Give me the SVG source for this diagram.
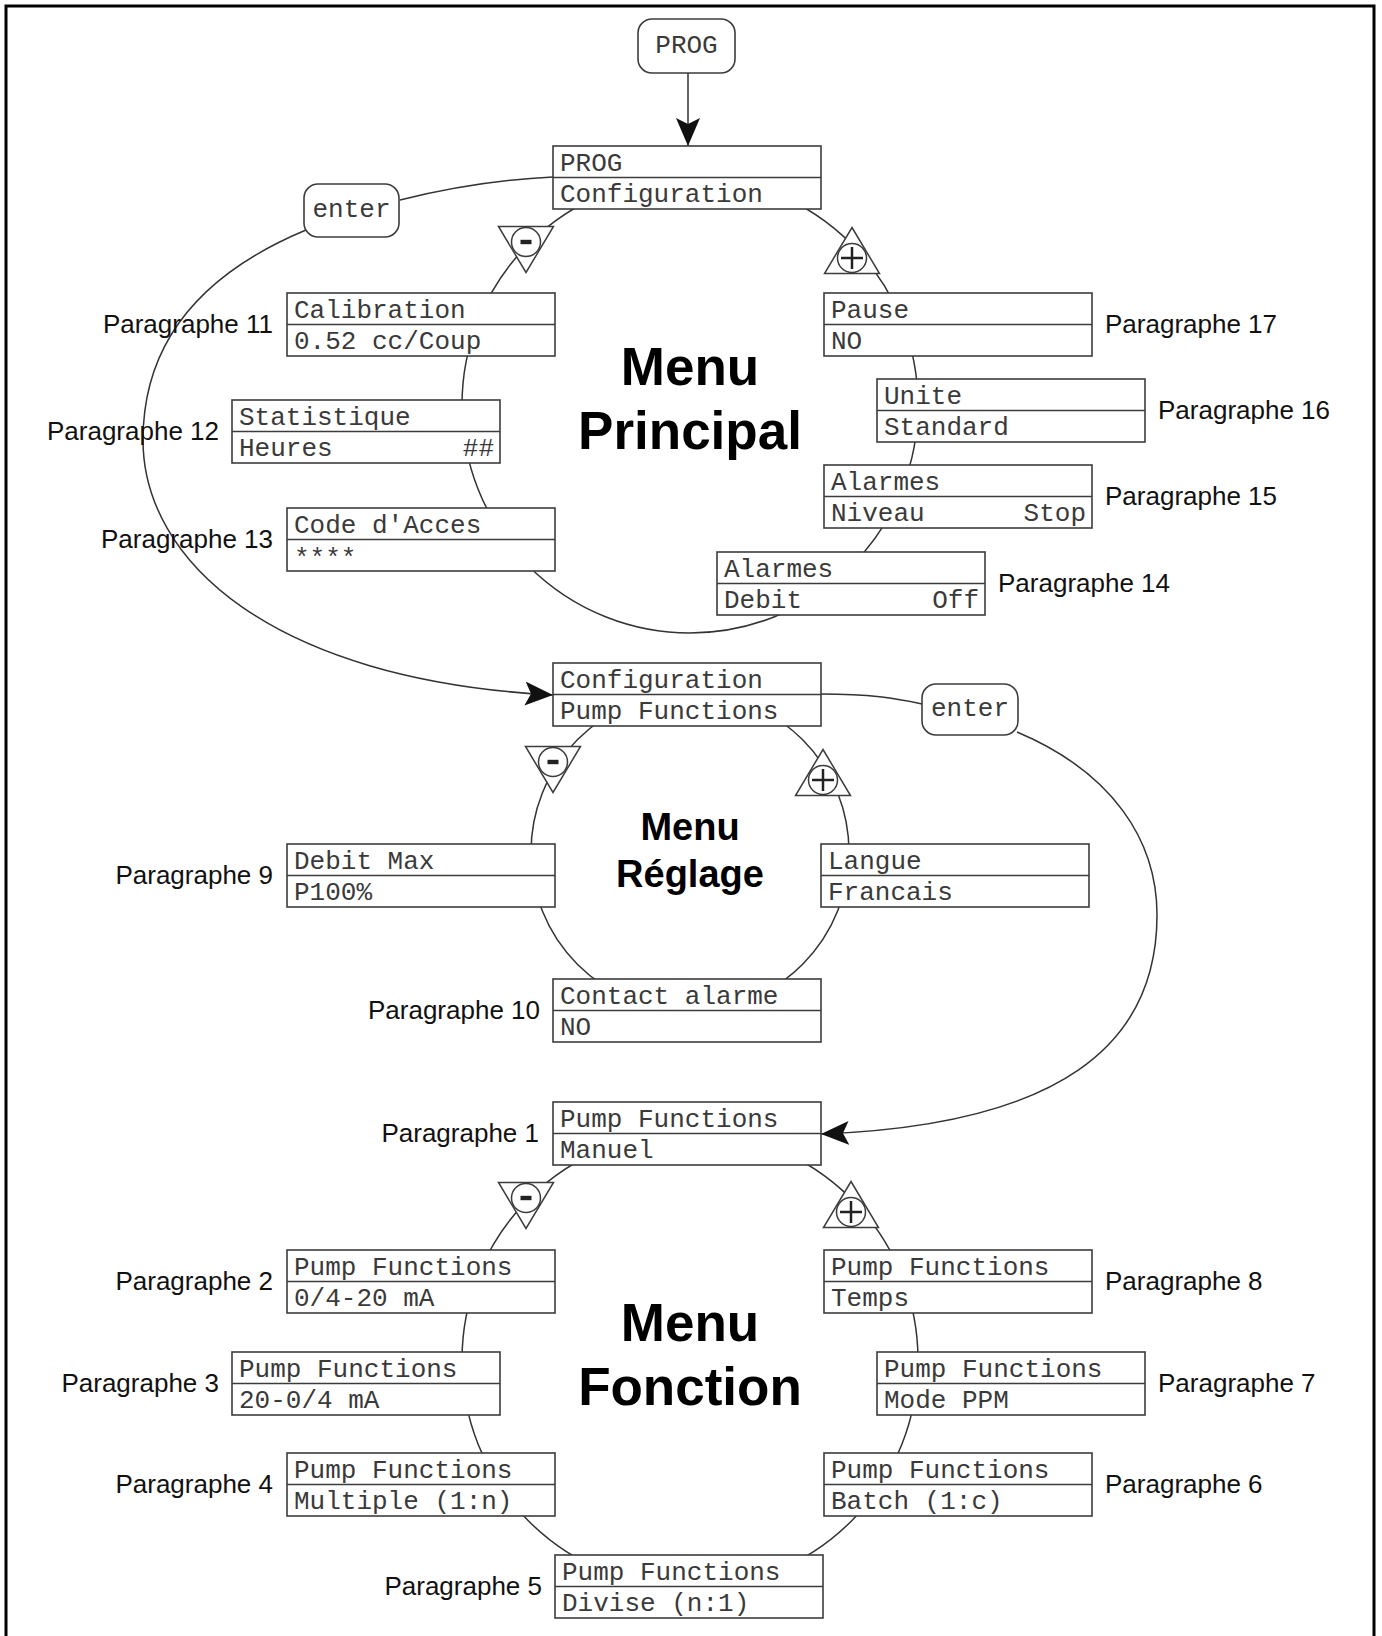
<svg xmlns="http://www.w3.org/2000/svg" xmlns:xlink="http://www.w3.org/1999/xlink" width="1382" height="1636" viewBox="0 0 1382 1636">
<style>
.box rect.b{fill:#fff;stroke:#3c3c3c;stroke-width:1.6}
.box line{stroke:#3c3c3c;stroke-width:1.6}
.mono{font-family:"Liberation Mono","Courier New",monospace;font-size:26px;fill:#3a3a3a}
.r{text-anchor:end}
.para{font-family:"Liberation Sans",Arial,sans-serif;font-size:26px;fill:#111}
.pe{text-anchor:end}
.title{font-family:"Liberation Sans",Arial,sans-serif;font-weight:bold;fill:#000;text-anchor:middle}
.conn{fill:none;stroke:#333;stroke-width:1.5}
.key rect{fill:#fff;stroke:#3c3c3c;stroke-width:1.6}
.key text{font-family:"Liberation Mono","Courier New",monospace;font-size:26px;fill:#3a3a3a;text-anchor:middle}
.tri{fill:#fff;stroke:#3c3c3c;stroke-width:1.5}
</style>
<defs>
<marker id="arrow" markerUnits="userSpaceOnUse" markerWidth="30" markerHeight="26" refX="28" refY="12" orient="auto">
<path d="M0,0 L28,12 L0,24 L6,12 Z" fill="#111"/>
</marker>
<g id="minus">
<polygon class="tri" points="-27.5,-15.5 27.5,-15.5 0,30.5"/>
<circle cx="0" cy="0" r="14.5" fill="#fff" stroke="#3c3c3c" stroke-width="1.5"/>
<rect x="-5.5" y="-2.2" width="11" height="4.4" fill="#222"/>
</g>
<g id="plus">
<polygon class="tri" points="0,-30.5 27.5,15.5 -27.5,15.5"/>
<circle cx="0" cy="0" r="14.5" fill="#fff" stroke="#3c3c3c" stroke-width="1.5"/>
<path d="M-11,0 H11 M0,-11 V11" stroke="#222" stroke-width="2.5"/>
</g>
</defs>
<rect x="0" y="0" width="1382" height="1636" fill="#fff"/>
<path d="M6,1636 V6 H1374 V1636" fill="none" stroke="#000" stroke-width="3"/>

<g id="connectors">
<circle class="conn" cx="690" cy="405" r="228"/>
<circle class="conn" cx="690" cy="852" r="159"/>
<circle class="conn" cx="690" cy="1360" r="228"/>
<path class="conn" d="M688,73 V146" marker-end="url(#arrow)"/>
<path class="conn" d="M553,177 C490,180 440,190 400,200"/>
<path class="conn" d="M306,230 C198,275 143,345 143,440 C143,560 270,680 553,695" marker-end="url(#arrow)"/>
<path class="conn" d="M821,694 C870,694 895,698 922,704"/>
<path class="conn" d="M1017,732 C1112,772 1157,840 1157,915 C1157,1045 1060,1125 821,1134" marker-end="url(#arrow)"/>
</g>

<g id="key-prog" class="key"><rect x="638" y="19" width="97" height="54" rx="14"/><text x="686.5" y="53">PROG</text></g>
<g id="key-enter1" class="key"><rect x="304" y="184" width="95" height="53" rx="14"/><text x="351.5" y="217">enter</text></g>
<g id="key-enter2" class="key"><rect x="922" y="684" width="96" height="51" rx="14"/><text x="970" y="716">enter</text></g>

<g id="sign-minus-1"><use xlink:href="#minus" href="#minus" x="526" y="242"/></g>
<g id="sign-plus-1"><use xlink:href="#plus" href="#plus" x="852" y="258"/></g>
<g id="sign-minus-2"><use xlink:href="#minus" href="#minus" x="553" y="762"/></g>
<g id="sign-plus-2"><use xlink:href="#plus" href="#plus" x="823" y="780"/></g>
<g id="sign-minus-3"><use xlink:href="#minus" href="#minus" x="526" y="1198"/></g>
<g id="sign-plus-3"><use xlink:href="#plus" href="#plus" x="851" y="1212"/></g>

<!-- Menu Principal -->
<g id="box-prog" class="box"><rect class="b" x="553" y="146" width="268" height="63"/><line x1="553" y1="177.5" x2="821" y2="177.5"/><text class="mono" x="560" y="171">PROG</text><text class="mono" x="560" y="202">Configuration</text></g>
<g id="box-calibration" class="box"><rect class="b" x="287" y="293" width="268" height="63"/><line x1="287" y1="324.5" x2="555" y2="324.5"/><text class="mono" x="294" y="318">Calibration</text><text class="mono" x="294" y="349">0.52 cc/Coup</text><text class="para pe" x="273" y="333">Paragraphe 11</text></g>
<g id="box-statistique" class="box"><rect class="b" x="232" y="400" width="268" height="63"/><line x1="232" y1="431.5" x2="500" y2="431.5"/><text class="mono" x="239" y="425">Statistique</text><text class="mono" x="239" y="456">Heures</text><text class="mono r" x="494" y="456">##</text><text class="para pe" x="219" y="440">Paragraphe 12</text></g>
<g id="box-code" class="box"><rect class="b" x="287" y="508" width="268" height="63"/><line x1="287" y1="539.5" x2="555" y2="539.5"/><text class="mono" x="294" y="533">Code d'Acces</text><text class="mono" x="294" y="566">****</text><text class="para pe" x="273" y="548">Paragraphe 13</text></g>
<g id="box-pause" class="box"><rect class="b" x="824" y="293" width="268" height="63"/><line x1="824" y1="324.5" x2="1092" y2="324.5"/><text class="mono" x="831" y="318">Pause</text><text class="mono" x="831" y="349">NO</text><text class="para" x="1105" y="333">Paragraphe 17</text></g>
<g id="box-unite" class="box"><rect class="b" x="877" y="379" width="268" height="63"/><line x1="877" y1="410.5" x2="1145" y2="410.5"/><text class="mono" x="884" y="404">Unite</text><text class="mono" x="884" y="435">Standard</text><text class="para" x="1158" y="419">Paragraphe 16</text></g>
<g id="box-alarmes-niveau" class="box"><rect class="b" x="824" y="465" width="268" height="63"/><line x1="824" y1="496.5" x2="1092" y2="496.5"/><text class="mono" x="831" y="490">Alarmes</text><text class="mono" x="831" y="521">Niveau</text><text class="mono r" x="1086" y="521">Stop</text><text class="para" x="1105" y="505">Paragraphe 15</text></g>
<g id="box-alarmes-debit" class="box"><rect class="b" x="717" y="552" width="268" height="63"/><line x1="717" y1="583.5" x2="985" y2="583.5"/><text class="mono" x="724" y="577">Alarmes</text><text class="mono" x="724" y="608">Debit</text><text class="mono r" x="979" y="608">Off</text><text class="para" x="998" y="592">Paragraphe 14</text></g>
<g id="title-principal"><text class="title" x="690" y="385" font-size="53">Menu</text><text class="title" x="690" y="449" font-size="53">Principal</text></g>

<!-- Menu Reglage -->
<g id="box-configuration" class="box"><rect class="b" x="553" y="663" width="268" height="63"/><line x1="553" y1="694.5" x2="821" y2="694.5"/><text class="mono" x="560" y="688">Configuration</text><text class="mono" x="560" y="719">Pump Functions</text></g>
<g id="box-debit-max" class="box"><rect class="b" x="287" y="844" width="268" height="63"/><line x1="287" y1="875.5" x2="555" y2="875.5"/><text class="mono" x="294" y="869">Debit Max</text><text class="mono" x="294" y="900">P100%</text><text class="para pe" x="273" y="884">Paragraphe 9</text></g>
<g id="box-langue" class="box"><rect class="b" x="821" y="844" width="268" height="63"/><line x1="821" y1="875.5" x2="1089" y2="875.5"/><text class="mono" x="828" y="869">Langue</text><text class="mono" x="828" y="900">Francais</text></g>
<g id="box-contact" class="box"><rect class="b" x="553" y="979" width="268" height="63"/><line x1="553" y1="1010.5" x2="821" y2="1010.5"/><text class="mono" x="560" y="1004">Contact alarme</text><text class="mono" x="560" y="1035">NO</text><text class="para pe" x="540" y="1019">Paragraphe 10</text></g>
<g id="title-reglage"><text class="title" x="690" y="840" font-size="38">Menu</text><text class="title" x="690" y="887" font-size="38">Réglage</text></g>

<!-- Menu Fonction -->
<g id="box-manuel" class="box"><rect class="b" x="553" y="1102" width="268" height="63"/><line x1="553" y1="1133.5" x2="821" y2="1133.5"/><text class="mono" x="560" y="1127">Pump Functions</text><text class="mono" x="560" y="1158">Manuel</text><text class="para pe" x="539" y="1142">Paragraphe 1</text></g>
<g id="box-f2" class="box"><rect class="b" x="287" y="1250" width="268" height="63"/><line x1="287" y1="1281.5" x2="555" y2="1281.5"/><text class="mono" x="294" y="1275">Pump Functions</text><text class="mono" x="294" y="1306">0/4-20 mA</text><text class="para pe" x="273" y="1290">Paragraphe 2</text></g>
<g id="box-f3" class="box"><rect class="b" x="232" y="1352" width="268" height="63"/><line x1="232" y1="1383.5" x2="500" y2="1383.5"/><text class="mono" x="239" y="1377">Pump Functions</text><text class="mono" x="239" y="1408">20-0/4 mA</text><text class="para pe" x="219" y="1392">Paragraphe 3</text></g>
<g id="box-f4" class="box"><rect class="b" x="287" y="1453" width="268" height="63"/><line x1="287" y1="1484.5" x2="555" y2="1484.5"/><text class="mono" x="294" y="1478">Pump Functions</text><text class="mono" x="294" y="1509">Multiple (1:n)</text><text class="para pe" x="273" y="1493">Paragraphe 4</text></g>
<g id="box-f5" class="box"><rect class="b" x="555" y="1555" width="268" height="63"/><line x1="555" y1="1586.5" x2="823" y2="1586.5"/><text class="mono" x="562" y="1580">Pump Functions</text><text class="mono" x="562" y="1611">Divise (n:1)</text><text class="para pe" x="542" y="1595">Paragraphe 5</text></g>
<g id="box-f6" class="box"><rect class="b" x="824" y="1453" width="268" height="63"/><line x1="824" y1="1484.5" x2="1092" y2="1484.5"/><text class="mono" x="831" y="1478">Pump Functions</text><text class="mono" x="831" y="1509">Batch (1:c)</text><text class="para" x="1105" y="1493">Paragraphe 6</text></g>
<g id="box-f7" class="box"><rect class="b" x="877" y="1352" width="268" height="63"/><line x1="877" y1="1383.5" x2="1145" y2="1383.5"/><text class="mono" x="884" y="1377">Pump Functions</text><text class="mono" x="884" y="1408">Mode PPM</text><text class="para" x="1158" y="1392">Paragraphe 7</text></g>
<g id="box-f8" class="box"><rect class="b" x="824" y="1250" width="268" height="63"/><line x1="824" y1="1281.5" x2="1092" y2="1281.5"/><text class="mono" x="831" y="1275">Pump Functions</text><text class="mono" x="831" y="1306">Temps</text><text class="para" x="1105" y="1290">Paragraphe 8</text></g>
<g id="title-fonction"><text class="title" x="690" y="1341" font-size="53">Menu</text><text class="title" x="690" y="1405" font-size="53">Fonction</text></g>
</svg>
